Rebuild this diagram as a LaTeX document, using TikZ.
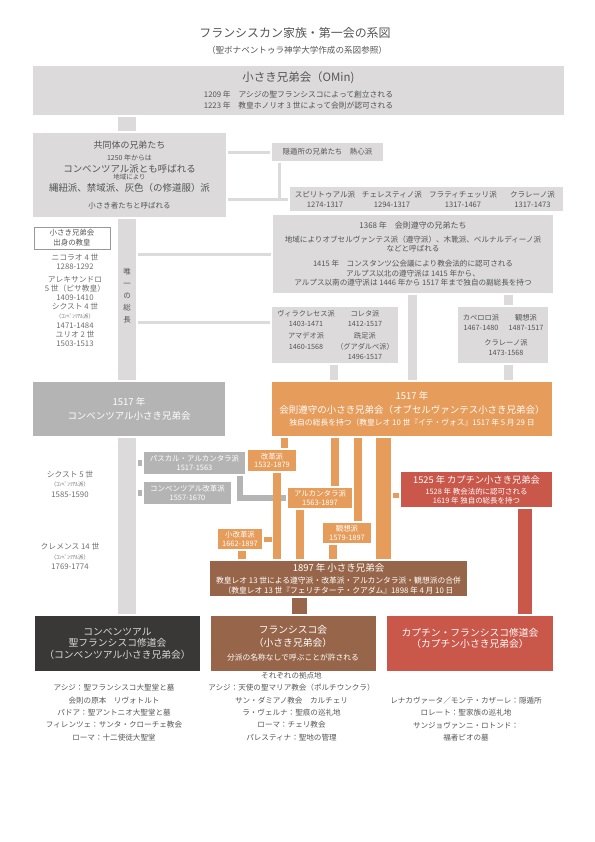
\documentclass[tikz,border=0pt]{standalone}
\usepackage{fontspec}
\setmainfont{Noto Sans CJK JP}
\usepackage{tikz}

\definecolor{lgray}{HTML}{DCDADA}
\definecolor{mgray}{HTML}{B4B4B4}
\definecolor{ora}{HTML}{E69C5A}
\definecolor{brn}{HTML}{97664A}
\definecolor{rd}{HTML}{C9574A}
\definecolor{drk}{HTML}{3A3837}
\definecolor{txt}{HTML}{555555}
\newcommand{\fsz}[2]{\fontsize{#1}{#2}\selectfont}
\newcommand{\colbox}[2]{\hbox to #1bp{\hss#2\hss}}
\lineskiplimit=-100pt

\begin{document}
\begin{tikzpicture}[x=1bp,y=-1bp,
  every node/.style={inner sep=0pt,align=center,text=txt},
  bx/.style n args={3}{fill=#1,minimum width=#2bp,minimum height=#3bp},
  sub/.style={font=\fsz{7.5}{8.3},text=white},
  pope/.style={anchor=north,font=\fsz{7.8}{9.2},text=txt!85},
  site/.style={anchor=north,font=\fsz{7.6}{12.4}},
  con/.style={line width=#1,shorten <=1.5bp,shorten >=1.5bp}]
\useasboundingbox (0,0) rectangle (595,842);

% title
\node[font=\fsz{12}{14}] (title) at (295,33) {フランシスカン家族・第一会の系図};
\node[font=\fsz{8.6}{10}] (src) at (297,50) {（聖ボナベントゥラ神学大学作成の系図参照）};

% first order
\node[bx={lgray}{531}{49},font=\fsz{7.8}{11.5}] (omin) at (298.5,90.5)
  {{\fsz{11.5}{11.5}小さき兄弟会（OMin)}\\[4.4pt]
   1209 年　アシジの聖フランシスコによって創立される\\
   1223 年　教皇ホノリオ 3 世によって会則が認可される};
\node[bx={lgray}{193}{84},font=\fsz{7}{12}] (comm) at (129.5,175)
  {{\fsz{9}{12}共同体の兄弟たち}\\[-0.1pt]
   1250 年からは\\[0.6pt]
   {\fsz{9.5}{12}コンベンツアル派とも呼ばれる}\\[-4.8pt]
   {\fsz{6.5}{12}地域により}\\[-0.2pt]
   {\fsz{9.5}{12}縄紐派、禁域派、灰色（の修道服）派}\\[5pt]
   {\fsz{7.5}{12}小さき者たちと呼ばれる}};
\node[bx={lgray}{111}{18},font=\fsz{7.5}{9}] (hermit) at (327.5,152) {隠遁所の兄弟たち　熱心派};
\node[bx={lgray}{273}{24},font=\fsz{7.6}{10}] (spir) at (426.5,199)
  {\colbox{70}{スピリトゥアル派}\colbox{64}{チェレスティノ派}\colbox{78}{フラティチェッリ派}\colbox{61}{クラレーノ派}\\
   \colbox{70}{1274-1317}\colbox{64}{1294-1317}\colbox{78}{1317-1467}\colbox{61}{1317-1473}};
\node[bx={lgray}{280}{78},font=\fsz{7.6}{9.5}] (obs) at (413,254)
  {{\fsz{8}{9.5}1368 年　会則遵守の兄弟たち}\\[4.5pt]
   地域によりオブセルヴァンテス派（遵守派）、木靴派、ベルナルディーノ派\\[-0.5pt]
   などと呼ばれる\\[5.5pt]
   1415 年　コンスタンツ公会議により教会法的に認可される\\[1pt]
   アルプス以北の遵守派は 1415 年から、\\
   アルプス以南の遵守派は 1446 年から 1517 年まで独自の副総長を持つ};
\node[bx={lgray}{126}{56},font=\fsz{7.2}{10.5}] (vila) at (335,335)
  {\colbox{68}{ヴィラクレセス派}\colbox{50}{コレタ派}\colbox{8}{}\\[-0.5pt]
   \colbox{68}{1403-1471}\colbox{50}{1412-1517}\colbox{8}{}\\[2.2pt]
   \colbox{68}{アマデオ派}\colbox{50}{跣足派}\colbox{8}{}\\
   \colbox{68}{1460-1568}\colbox{50}{（グアダルペ派）}\colbox{8}{}\\
   \colbox{68}{}\colbox{50}{1496-1517}\colbox{8}{}};
\node[bx={lgray}{90}{56},font=\fsz{7.3}{10}] (capel) at (503,335)
  {\colbox{46}{カペロロ派}\colbox{44}{観想派}\\
   \colbox{46}{1467-1480}\colbox{44}{1487-1517}\\[5pt]
   \colbox{90}{\kern6bp クラレーノ派}\\
   \colbox{90}{\kern6bp 1473-1568}};

% popes from the order
\node[bx={white}{76}{22},draw=txt!60,line width=0.6pt,font=\fsz{7.5}{10}] (popes) at (72,238) {小さき兄弟会\\出身の教皇};
\node[pope] (nico) at (75,254) {ニコラオ 4 世\\1288-1292};
\node[pope] (alex) at (75,276) {アレキサンドロ\\5 世（ピサ教皇）\\1409-1410};
\node[pope] (six4) at (75,303) {シクスト 4 世\\{\fsz{5.5}{9.2}（ｺﾝﾍﾞﾝﾂｱﾙ派）}\\1471-1484};
\node[pope] (jul) at (75,331) {ユリオ 2 世\\1503-1513};
\node[pope] (six5) at (70,471) {シクスト 5 世\\{\fsz{5.5}{9.2}（ｺﾝﾍﾞﾝﾂｱﾙ派）}\\[1.5pt]1585-1590};
\node[pope] (clem) at (70,543) {クレメンス 14 世\\[0.8pt]{\fsz{5.5}{9.2}（ｺﾝﾍﾞﾝﾂｱﾙ派）}\\[0.8pt]1769-1774};

% 1517
\node[bx={mgray}{192}{54},text=white,font=\fsz{9.5}{13.8}] (conv) at (129,409) {1517 年\\コンベンツアル小さき兄弟会};
\node[bx={ora}{280}{54},text=white,font=\fsz{9.5}{14.4}] (ofm1517) at (412,409)
  {1517 年\\会則遵守の小さき兄弟会（オブセルヴァンテス小さき兄弟会）\\[-2.4pt]
   {\fsz{7.8}{12}独自の総長を持つ（教皇レオ 10 世『イテ・ヴォス』1517 年 5 月 29 日}};

% reforms
\node[bx={mgray}{101}{22},sub] (pasc) at (194.5,463) {パスカル・アルカンタラ派\\1517-1563};
\node[bx={mgray}{87}{22},sub] (cref) at (187.5,493) {コンベンツアル改革派\\1557-1670};
\node[bx={ora}{48}{21},sub] (ref) at (272,460.5) {改革派\\1532-1879};
\node[bx={ora}{64}{20},sub] (alc) at (320,498) {アルカンタラ派\\1563-1897};
\node[bx={ora}{48}{20},sub] (cont) at (347,533) {観想派\\1579-1897};
\node[bx={ora}{44}{20},sub] (mref) at (240,539) {小改革派\\1662-1897};
\node[bx={rd}{151}{35},text=white,font=\fsz{7.5}{9}] (capu) at (476.5,489.5)
  {{\fsz{9.3}{9}1525 年 カプチン小さき兄弟会}\\[2.1pt]
   1528 年 教会法的に認可される\\
   1619 年 独自の総長を持つ};
\node[bx={brn}{257}{35},text=white,font=\fsz{7.8}{10}] (ofm97) at (338.5,578.5)
  {{\fsz{9.5}{10}1897 年 小さき兄弟会}\\[2pt]
   教皇レオ 13 世による遵守派・改革派・アルカンタラ派・観想派の合併\\
   （教皇レオ 13 世『フェリチターテ・クアダム』1898 年 4 月 10 日};

% today
\node[bx={drk}{165}{55},text=white!85!black,font=\fsz{9.8}{11.7}] (convb) at (117.5,643.5)
  {コンベンツアル\\聖フランシスコ修道会\\（コンベンツアル小さき兄弟会）};
\node[bx={brn}{165}{55},text=white,font=\fsz{9.8}{12.5}] (ofmb) at (293,643.5)
  {フランシスコ会\\（小さき兄弟会）\\[1.8pt]{\fsz{7.8}{12}分派の名称なしで呼ぶことが許される}};
\node[bx={rd}{166}{55},text=white,font=\fsz{9.8}{11.5}] (capb) at (470,643.5)
  {カプチン・フランシスコ修道会\\（カプチン小さき兄弟会）\\\mbox{}};

\node[site] (site1) at (114,684.2) {アシジ：聖フランシスコ大聖堂と墓\\会則の原本　リヴォトルト\\パドア：聖アントニオ大聖堂と墓\\フィレンツェ：サンタ・クローチェ教会\\ローマ：十二使徒大聖堂};
\node[site] (site2) at (291.5,672) {それぞれの拠点地\\アシジ：天使の聖マリア教会（ポルチウンクラ）\\サン・ダミアノ教会　カルチェリ\\ラ・ヴェルナ：聖痕の巡礼地\\ローマ：チェリ教会\\パレスティナ：聖地の管理};
\node[site] (site3) at (466,697) {レナカヴァータ／モンテ・カザーレ：隠遁所\\ロレート：聖家族の巡礼地\\サンジョヴァンニ・ロトンド：\\福者ピオの墓};

% connectors
\coordinate (xsole) at (127,0);
\coordinate (xsolee) at (136,0);
\coordinate (xherm) at (279.5,0);
\coordinate (vl) at ([yshift=13pt]vila.west);
\draw[con=18bp,lgray] (omin.south -| xsole) -- (comm.north -| xsole);
\draw[con=18bp,lgray] (comm.south -| xsole) -- (conv.north -| xsole);
\draw[con=18bp,lgray] (conv.south -| xsole) -- (convb.north -| xsole);
\draw[con=3bp,lgray] (comm.east |- hermit.west) -- (hermit.west);
\draw[con=3bp,lgray] (comm.east |- spir.west) -- (spir.west);
\draw[con=3bp,lgray] (hermit.south -| xherm) -- (spir.west -| xherm);
\draw[con=3bp,lgray] (obs.west -| xsolee) -- (obs.west);
\draw[con=3bp,lgray] (vl -| xsolee) -- (vl);
\node[anchor=north,font=\fsz{7.5}{12}] (sole) at (127,268.5) {唯\\一\\の\\総\\長};

\coordinate (xobs) at (412.5,0);
\coordinate (xcap) at (508.5,0);
\coordinate (xvil) at (334,0);
\draw[con=9bp,lgray] (obs.south -| xobs) -- (ofm1517.north -| xobs);
\draw[con=9bp,lgray] (obs.south -| xcap) -- (capel.north -| xcap);
\draw[con=9bp,lgray] (capel.south -| xcap) -- (ofm1517.north -| xcap);
\draw[con=8bp,lgray] (vila.south -| xvil) -- (ofm1517.north -| xvil);

\coordinate (xpl) at (240,0);
\draw[con=6.5bp,mgray] (pasc.west -| xsolee) -- (pasc.west);
\draw[con=6.5bp,mgray] (cref.west -| xsolee) -- (cref.west);
\draw[con=6bp,mgray] (pasc.south -| xpl) |- (alc.west);

\coordinate (xref) at (284.5,0);
\coordinate (xalc) at (335,0);
\coordinate (xcon) at (358,0);
\coordinate (xobs2) at (383.5,0);
\coordinate (xref2) at (277,0);
\coordinate (xalc2) at (300,0);
\coordinate (xcon2) at (333,0);
\coordinate (xmref) at (242,0);
\coordinate (xrefl) at (273,0);
\coordinate (capsq) at (391,495.5);
\draw[con=7.5bp,ora] (ofm1517.south -| xref) -- (ref.north -| xref);
\draw[con=8bp,ora] (ofm1517.south -| xalc) -- (alc.north -| xalc);
\draw[con=8bp,ora] (ofm1517.south -| xcon) -- (cont.north -| xcon);
\draw[con=15bp,ora] (ofm1517.south -| xobs2) -- (ofm97.north -| xobs2);
\draw[con=8bp,ora] (ref.south -| xref2) -- (ofm97.north -| xref2);
\draw[con=8bp,ora] (alc.south -| xalc2) -- (ofm97.north -| xalc2);
\draw[con=8bp,ora] (cont.south -| xcon2) -- (ofm97.north -| xcon2);
\draw[con=8bp,ora] (mref.south -| xmref) -- (ofm97.north -| xmref);
\draw[con=5bp,ora] (mref.east) -- (mref.east -| xrefl);
\draw[con=5bp,ora] (capsq) -- (capsq -| capu.west);

\coordinate (xnew) at (299.5,0);
\coordinate (xcapu) at (525,0);
\draw[con=15bp,brn] (ofm97.south -| xnew) -- (ofmb.north -| xnew);
\draw[con=14bp,rd] (capu.south -| xcapu) -- (capb.north -| xcapu);
\end{tikzpicture}
\end{document}
